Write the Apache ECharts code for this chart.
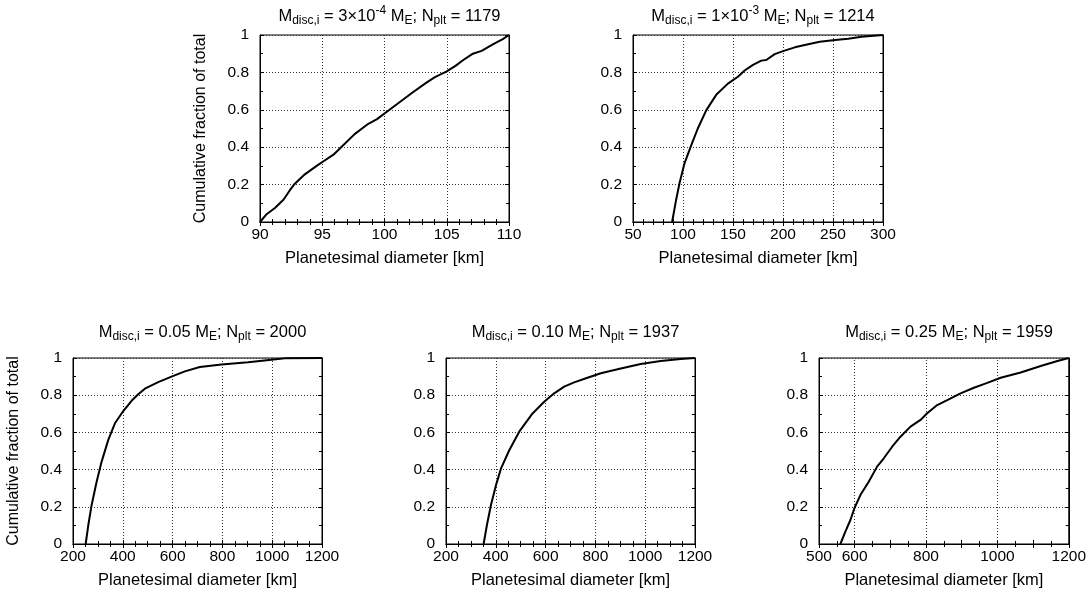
<!DOCTYPE html>
<html>
<head>
<meta charset="utf-8">
<script src="https://cdn.jsdelivr.net/npm/echarts@6/dist/echarts.min.js"></script>
<style>
html,body{margin:0;padding:0;background:#fff;}
#c{width:1089px;height:593px;}
</style>
</head>
<body>
<div id="c"></div>
<script>
// ---- data ----
const p1Title = ['3×10', '-4', '1179'];
const p1X = [90, 90.5, 91.2, 91.9, 92.4, 92.8, 93.6, 94.55, 95.1, 95.9, 96.6, 97.6, 98.7, 99.4, 100.0, 101.1, 102.2, 103.25, 104.05, 105.0, 105.7, 106.3, 107.1, 107.8, 108.7, 109.5, 110];
const p1Y = [0, 0.04, 0.075, 0.12, 0.17, 0.205, 0.255, 0.3, 0.325, 0.36, 0.405, 0.47, 0.525, 0.55, 0.58, 0.635, 0.69, 0.74, 0.775, 0.805, 0.835, 0.865, 0.9, 0.915, 0.95, 0.978, 1.0];

const p2Title = ['1×10', '-3', '1214'];
const p2X = [89.1, 93.1, 96.5, 101.5, 108.2, 114.8, 123.2, 133.2, 144.9, 154.9, 161.6, 170, 178.3, 183.3, 191.7, 200, 211.8, 225.1, 236.8, 251.9, 265.2, 278.6, 300];
const p2Y = [0, 0.118, 0.207, 0.314, 0.41, 0.5, 0.597, 0.68, 0.74, 0.777, 0.81, 0.84, 0.863, 0.866, 0.898, 0.914, 0.934, 0.95, 0.964, 0.973, 0.98, 0.991, 1.0];

const p3Title = ['0.05', '2000'];
const p3X = [250.8, 261.5, 274.9, 294.9, 315, 341.7, 368.4, 401.9, 435.3, 462, 488.8, 542.2, 595.7, 649.2, 709.4, 796.3, 903.2, 996.8, 1050.3, 1200];
const p3Y = [0, 0.102, 0.21, 0.335, 0.443, 0.56, 0.649, 0.715, 0.77, 0.805, 0.835, 0.87, 0.9, 0.928, 0.952, 0.965, 0.977, 0.99, 0.998, 1.0];

const p4Title = ['0.10', '1937'];
const p4X = [351, 364.4, 380.5, 400.5, 420.6, 454, 494.1, 547.6, 594.4, 634.5, 674.6, 714.7, 768.2, 821.7, 901.9, 982.1, 1062.3, 1142.5, 1200];
const p4Y = [0, 0.102, 0.21, 0.315, 0.405, 0.504, 0.604, 0.702, 0.765, 0.81, 0.846, 0.869, 0.894, 0.918, 0.944, 0.968, 0.984, 0.995, 1.0];

const p5Title = ['0.25', '1959'];
const p5X = [559.9, 573.9, 588, 599.2, 616, 639.4, 662.8, 681.6, 705, 728.3, 756.4, 784.5, 803.2, 831.3, 859.4, 896.8, 934.2, 971.7, 1009.1, 1065.3, 1121.4, 1168.2, 1200];
const p5Y = [0, 0.066, 0.129, 0.192, 0.263, 0.335, 0.416, 0.461, 0.523, 0.577, 0.631, 0.667, 0.703, 0.747, 0.774, 0.81, 0.84, 0.866, 0.894, 0.922, 0.957, 0.984, 1.0];

const yTicks = [0, 0.2, 0.4, 0.6, 0.8, 1];
const xLabel = 'Planetesimal diameter [km]';
const yLabel = 'Cumulative fraction of total';

// ---- layout ----
const FONT = "'Liberation Sans', Arial, Helvetica, sans-serif";
const panels = [
  {grid: {left: 260, top: 35, width: 249, height: 187}, x: p1X, y: p1Y, xmin: 90, xmax: 110, xint: 5, xminor: 5, yname: true,
   title: '{m|M}{s|disc,i}{m| = ' + p1Title[0] + '}{p|' + p1Title[1] + '}{m| M}{s|E}{m|; N}{s|plt}{m| = ' + p1Title[2] + '}', ty: 0},
  {grid: {left: 633, top: 35, width: 250, height: 187}, x: p2X, y: p2Y, xmin: 50, xmax: 300, xint: 50, xminor: 5, yname: false,
   title: '{m|M}{s|disc,i}{m| = ' + p2Title[0] + '}{p|' + p2Title[1] + '}{m| M}{s|E}{m|; N}{s|plt}{m| = ' + p2Title[2] + '}', ty: 0},
  {grid: {left: 73, top: 358, width: 249, height: 186}, x: p3X, y: p3Y, xmin: 200, xmax: 1200, xint: 200, xminor: 4, yname: true,
   title: '{m|M}{s|disc,i}{m| = ' + p3Title[0] + ' M}{s|E}{m|; N}{s|plt}{m| = ' + p3Title[1] + '}', ty: 316},
  {grid: {left: 446, top: 358, width: 249, height: 186}, x: p4X, y: p4Y, xmin: 200, xmax: 1200, xint: 200, xminor: 4, yname: false,
   title: '{m|M}{s|disc,i}{m| = ' + p4Title[0] + ' M}{s|E}{m|; N}{s|plt}{m| = ' + p4Title[1] + '}', ty: 316},
  {grid: {left: 819, top: 358, width: 250, height: 186}, x: p5X, y: p5Y, xmin: 500, xmax: 1200, xint: 100, xminor: 2, yname: false,
   special: [600, 800, 1000], labelKeep: [500, 600, 800, 1000, 1200],
   title: '{m|M}{s|disc,i}{m| = ' + p5Title[0] + ' M}{s|E}{m|; N}{s|plt}{m| = ' + p5Title[1] + '}', ty: 316}
];

const gridLineStyle = {color: '#333', width: 1, type: [1, 2]};
const rich = {
  m: {fontSize: 16.5, fontFamily: FONT, fontWeight: 'normal', color: '#000', lineHeight: 22},
  s: {fontSize: 12, fontFamily: FONT, fontWeight: 'normal', color: '#000', lineHeight: 12, verticalAlign: 'bottom'},
  p: {fontSize: 12, fontFamily: FONT, fontWeight: 'normal', color: '#000', lineHeight: 12, verticalAlign: 'top'}
};

const option = {animation: false, backgroundColor: '#fff', title: [], grid: [], xAxis: [], yAxis: [], series: []};

panels.forEach((p, i) => {
  option.grid.push(Object.assign({show: true, borderColor: '#000', borderWidth: 1, containLabel: false}, p.grid));
  option.title.push({
    text: p.title, left: p.grid.left + p.grid.width / 2, top: p.ty, textAlign: 'center',
    textStyle: {fontWeight: 'normal', rich: rich}
  });
  const tickCommon = {show: true, inside: true, length: 4, lineStyle: {color: '#000', width: 1}};
  const minorCommon = {show: true, length: 3, lineStyle: {color: '#000', width: 1}};
  option.xAxis.push({
    type: 'value', gridIndex: i, position: 'bottom', min: p.xmin, max: p.xmax, interval: p.xint,
    name: xLabel, nameLocation: 'middle', nameGap: 28,
    nameTextStyle: {fontFamily: FONT, fontSize: 16.5, color: '#000'},
    axisLine: {show: true, lineStyle: {color: '#000', width: 1}},
    axisTick: tickCommon,
    minorTick: Object.assign({splitNumber: p.xminor}, minorCommon),
    splitLine: {show: !p.special, lineStyle: gridLineStyle},
    axisLabel: {
      margin: 5, fontFamily: FONT, fontSize: 15.5, color: '#000',
      formatter: p.labelKeep ? (v => (p.labelKeep.indexOf(v) >= 0 ? String(v) : '')) : (v => String(v))
    }
  });
  option.xAxis.push({
    type: 'value', gridIndex: i, position: 'top', min: p.xmin, max: p.xmax, interval: p.xint,
    axisLine: {show: true, lineStyle: {color: '#000', width: 1}},
    axisTick: tickCommon,
    minorTick: Object.assign({splitNumber: p.xminor}, minorCommon),
    splitLine: {show: false}, axisLabel: {show: false}
  });
  option.yAxis.push({
    type: 'value', gridIndex: i, position: 'left', min: 0, max: 1, interval: 0.2,
    name: p.yname ? yLabel : '', nameLocation: 'middle', nameGap: 51,
    nameTextStyle: {fontFamily: FONT, fontSize: 16, color: '#000'},
    axisLine: {show: true, lineStyle: {color: '#000', width: 1}},
    axisTick: tickCommon,
    minorTick: Object.assign({splitNumber: 2}, minorCommon),
    splitLine: {show: true, lineStyle: gridLineStyle},
    axisLabel: {margin: 11, fontFamily: FONT, fontSize: 15.5, color: '#000',
      formatter: v => { const k = yTicks.find(t => Math.abs(t - v) < 1e-9); return k === undefined ? '' : String(k); }}
  });
  option.yAxis.push({
    type: 'value', gridIndex: i, position: 'right', min: 0, max: 1, interval: 0.2,
    axisLine: {show: true, lineStyle: {color: '#000', width: 1}},
    axisTick: tickCommon,
    minorTick: Object.assign({splitNumber: 2}, minorCommon),
    splitLine: {show: false}, axisLabel: {show: false}
  });
  const s = {
    type: 'line', xAxisIndex: 2 * i, yAxisIndex: 2 * i,
    data: p.x.map((xv, k) => [xv, p.y[k]]),
    showSymbol: false, symbol: 'none', smooth: false,
    lineStyle: {color: '#000', width: 2}, z: 5
  };
  if (p.special) {
    s.markLine = {
      silent: true, symbol: 'none', label: {show: false},
      lineStyle: gridLineStyle, animation: false,
      data: p.special.map(v => ({xAxis: v}))
    };
  }
  option.series.push(s);
});

const chart = echarts.init(document.getElementById('c'), null, {renderer: 'canvas'});
chart.setOption(option);
</script>
</body>
</html>
